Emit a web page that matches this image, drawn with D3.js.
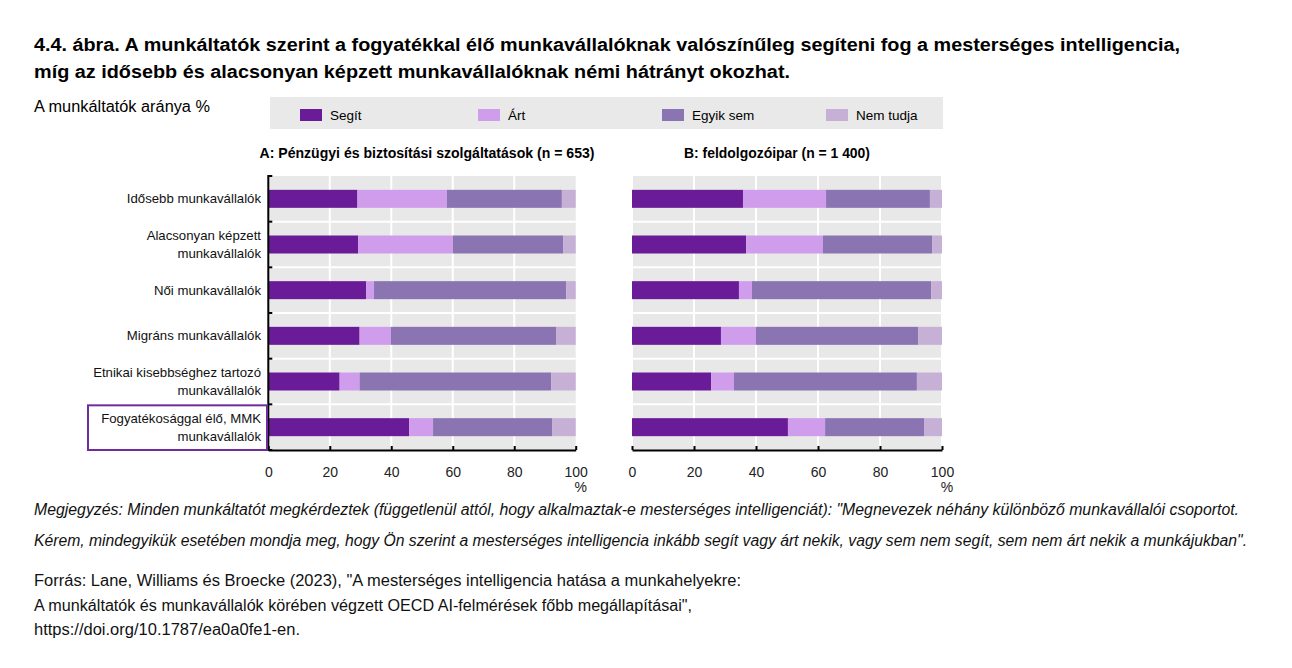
<!DOCTYPE html>
<html>
<head>
<meta charset="utf-8">
<script src="https://cdn.jsdelivr.net/npm/d3@7"></script>
<style>
  body { margin: 0; background: #fff; }
  svg { font-family: "Liberation Sans", Arial, sans-serif; }
</style>
</head>
<body>
<script>
// categories (top to bottom) and the four answer series, in %
var categories = [
  ["Idősebb munkavállalók"],
  ["Alacsonyan képzett", "munkavállalók"],
  ["Női munkavállalók"],
  ["Migráns munkavállalók"],
  ["Etnikai kisebbséghez tartozó", "munkavállalók"],
  ["Fogyatékosággal élő, MMK", "munkavállalók"]
];
var seriesNames = ["Segít", "Árt", "Egyik sem", "Nem tudja"];
var seriesColors = ["#6a1b98", "#d09dec", "#8a74b2", "#c7b0d6"];

// panel A: pénzügy
var finSegit = [29, 29.2, 31.8, 29.7, 23.2, 45.8];
var finArt   = [29.1, 30.8, 2.6, 10.2, 6.5, 7.8];
var finEgyik = [37.4, 35.9, 62.5, 53.7, 62.3, 38.7];
var finNem   = [4.5, 4.1, 3.1, 6.4, 8.0, 7.7];
// panel B: feldolgozóipar
var manSegit = [35.8, 36.8, 34.5, 28.7, 25.5, 50.3];
var manArt   = [26.8, 24.8, 4.2, 11.3, 7.4, 12.0];
var manEgyik = [33.5, 35.2, 57.8, 52.3, 59.0, 31.9];
var manNem   = [3.9, 3.2, 3.5, 7.7, 8.1, 5.8];

var xTicks = [0, 20, 40, 60, 80, 100];

var W = 1292, H = 668;
var svg = d3.select("body").append("svg").attr("width", W).attr("height", H);

// title
var titleLines = [
  "4.4. ábra. A munkáltatók szerint a fogyatékkal élő munkavállalóknak valószínűleg segíteni fog a mesterséges intelligencia,",
  "míg az idősebb és alacsonyan képzett munkavállalóknak némi hátrányt okozhat."
];
svg.selectAll(".title").data(titleLines).enter().append("text")
  .attr("x", 34)
  .attr("y", function(d, i) { return 51 + i * 27; })
  .attr("font-size", 18).attr("font-weight", "bold")
  .attr("textLength", function(d, i) { return i == 0 ? 1146 : 756; })
  .attr("lengthAdjust", "spacingAndGlyphs")
  .text(function(d) { return d; });

svg.append("text").attr("x", 34).attr("y", 112).attr("font-size", 16)
  .attr("textLength", 176).attr("lengthAdjust", "spacingAndGlyphs")
  .text("A munkáltatók aránya %");

// legend
svg.append("rect").attr("x", 270).attr("y", 97).attr("width", 673).attr("height", 32).attr("fill", "#e9e9e9");
var legendX = [300, 478, 662, 826];
var leg = svg.selectAll(".leg").data(seriesNames).enter().append("g")
  .attr("transform", function(d, i) { return "translate(" + legendX[i] + ",109)"; });
leg.append("rect").attr("width", 22).attr("height", 12)
  .attr("fill", function(d, i) { return seriesColors[i]; });
leg.append("text").attr("x", 30).attr("y", 11).attr("font-size", 13.5)
  .text(function(d) { return d; });

var y = d3.scaleBand().domain(d3.range(categories.length)).range([176, 450]).padding(0);
var barH = 18;

function drawPanel(x0, x1, title, titleX, titleW, values, withAxis) {
  var x = d3.scaleLinear().domain([0, 100]).range([x0, x1]);
  var g = svg.append("g");

  g.append("rect").attr("x", x0 + (withAxis ? 0 : 1)).attr("y", 176)
    .attr("width", x1 - x0 - (withAxis ? 0 : 2)).attr("height", 274).attr("fill", "#e8e8e8");
  // white grid
  g.selectAll(".vg").data(xTicks.slice(1, -1)).enter().append("line")
    .attr("x1", function(d) { return x(d); }).attr("x2", function(d) { return x(d); })
    .attr("y1", 176).attr("y2", 450).attr("stroke", "#fff").attr("stroke-width", 2);
  g.selectAll(".hg").data(d3.range(1, categories.length)).enter().append("line")
    .attr("x1", x0).attr("x2", x1)
    .attr("y1", function(d) { return y(d); }).attr("y2", function(d) { return y(d); })
    .attr("stroke", "#fff").attr("stroke-width", 2);

  // stacked bars
  var rows = categories.map(function(c, i) {
    var o = { i: i };
    seriesNames.forEach(function(s, k) { o[s] = values[k][i]; });
    return o;
  });
  var stack = d3.stack().keys(seriesNames)(rows);
  g.selectAll(".ser").data(stack).enter().append("g")
    .attr("fill", function(d, k) { return seriesColors[k]; })
    .selectAll("rect").data(function(d) { return d; }).enter().append("rect")
    .attr("x", function(d) { return x(d[0]); })
    .attr("width", function(d) { return x(d[1]) - x(d[0]); })
    .attr("y", function(d, i) { return y(i) + y.bandwidth() / 2 - barH / 2; })
    .attr("height", barH);

  // x axis
  var ax = g.append("g").attr("transform", "translate(0,450)")
    .call(d3.axisBottom(x).tickValues(xTicks).tickSizeInner(-4).tickSizeOuter(0).tickPadding(17));
  ax.select(".domain").attr("stroke", "#000").attr("stroke-width", 2);
  ax.selectAll(".tick line").attr("stroke", "#000").attr("stroke-width", 2);
  ax.selectAll("text").attr("font-size", 14).attr("font-family", "Liberation Sans, Arial, sans-serif").attr("fill", "#222");
  g.append("text").attr("x", x1 + 5).attr("y", 492).attr("font-size", 14)
    .attr("text-anchor", "middle").attr("fill", "#222").text("%");

  if (withAxis) {
    var yTicks = d3.range(categories.length + 1).map(function(i) { return 176 + i * y.step(); });
    g.append("line").attr("x1", x0).attr("x2", x0).attr("y1", 175).attr("y2", 451)
      .attr("stroke", "#000").attr("stroke-width", 2);
    g.selectAll(".yt").data(yTicks).enter().append("line")
      .attr("x1", x0).attr("x2", x0 + 4)
      .attr("y1", function(d) { return d; }).attr("y2", function(d) { return d; })
      .attr("stroke", "#000").attr("stroke-width", 2);
  }

  svg.append("text").attr("x", titleX).attr("y", 158).attr("text-anchor", "middle")
    .attr("font-size", 14).attr("font-weight", "bold")
    .attr("textLength", titleW).attr("lengthAdjust", "spacingAndGlyphs")
    .text(title);
}

drawPanel(268.3, 575.7, "A: Pénzügyi és biztosítási szolgáltatások (n = 653)", 427, 335,
  [finSegit, finArt, finEgyik, finNem], true);
drawPanel(632, 942, "B: feldolgozóipar (n = 1 400)", 777, 186,
  [manSegit, manArt, manEgyik, manNem], false);

// category labels
var lab = svg.selectAll(".cat").data(categories).enter().append("text")
  .attr("text-anchor", "end").attr("font-size", 13.2).attr("fill", "#111")
  .attr("transform", function(d, i) { return "translate(261," + (y(i) + y.bandwidth() / 2) + ")"; });
lab.selectAll("tspan").data(function(d) { return d; }).enter().append("tspan")
  .attr("x", 0)
  .attr("y", function(d, j, nodes) { return (j - (nodes.length - 1) / 2) * 18 + 4.5; })
  .text(function(d) { return d; });

// highlight box for the disability row
var last = categories.length - 1;
svg.append("rect").attr("x", 88).attr("y", y(last) + 1).attr("width", 179).attr("height", y.step() - 1)
  .attr("fill", "none").attr("stroke", "#6f2c9c").attr("stroke-width", 2);

// notes
var notes = [
  "Megjegyzés: Minden munkáltatót megkérdeztek (függetlenül attól, hogy alkalmaztak-e mesterséges intelligenciát): \"Megnevezek néhány különböző munkavállalói csoportot.",
  "Kérem, mindegyikük esetében mondja meg, hogy Ön szerint a mesterséges intelligencia inkább segít vagy árt nekik, vagy sem nem segít, sem nem árt nekik a munkájukban\"."
];
svg.selectAll(".note").data(notes).enter().append("text")
  .attr("x", 34).attr("y", function(d, i) { return 515 + i * 31; })
  .attr("font-size", 16).attr("font-style", "italic").attr("fill", "#111")
  .attr("textLength", function(d, i) { return i == 0 ? 1205 : 1213; })
  .attr("lengthAdjust", "spacingAndGlyphs")
  .text(function(d) { return d; });

var source = [
  "Forrás: Lane, Williams és Broecke (2023), \"A mesterséges intelligencia hatása a munkahelyekre:",
  "A munkáltatók és munkavállalók körében végzett OECD AI-felmérések főbb megállapításai\",",
  "https://doi.org/10.1787/ea0a0fe1-en."
];
var srcW = [707, 658, 266];
svg.selectAll(".src").data(source).enter().append("text")
  .attr("x", 34).attr("y", function(d, i) { return 586 + i * 24.5; })
  .attr("font-size", 16).attr("fill", "#111")
  .attr("textLength", function(d, i) { return srcW[i]; })
  .attr("lengthAdjust", "spacingAndGlyphs")
  .text(function(d) { return d; });
</script>
</body>
</html>
